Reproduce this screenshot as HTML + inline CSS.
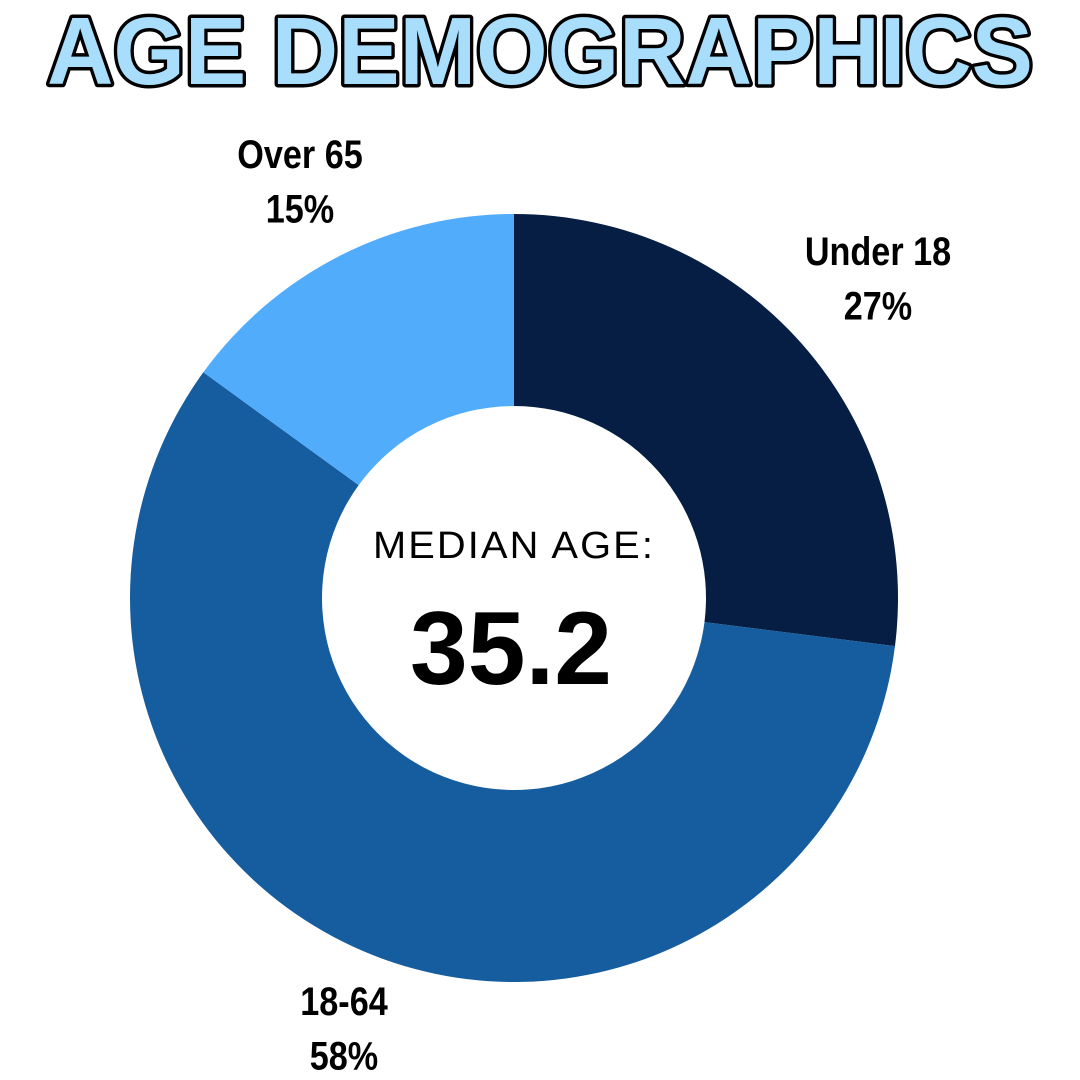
<!DOCTYPE html>
<html><head><meta charset="utf-8">
<style>
html,body{margin:0;padding:0;background:#fff;}
svg{display:block;}
.lbl{font-family:"Liberation Sans Narrow","Liberation Sans",sans-serif;font-weight:bold;font-size:38px;fill:#000;text-anchor:middle;}
</style></head>
<body>
<svg id="chart" width="1080" height="1080" viewBox="0 0 1080 1080">
  <text x="540" y="84" textLength="986" lengthAdjust="spacingAndGlyphs" text-anchor="middle"
    style="font-family:'Liberation Sans',sans-serif;font-weight:bold;font-size:96px;fill:#a8defc;stroke:#000;stroke-width:7px;paint-order:stroke;stroke-linejoin:round;"
   >AGE DEMOGRAPHICS</text>
  <g id="slices"></g>
  <g id="labels"></g>
  <text x="514" y="558" text-anchor="middle" textLength="282" lengthAdjust="spacingAndGlyphs" style="font-family:'Liberation Sans',sans-serif;font-size:38px;fill:#000;letter-spacing:2px;">MEDIAN AGE:</text>
  <text x="511" y="684" text-anchor="middle" textLength="202" lengthAdjust="spacingAndGlyphs" style="font-family:'Liberation Sans',sans-serif;font-weight:bold;font-size:104px;fill:#000;">35.2</text>
</svg>
<script>
const categories = ["Under 18", "18-64", "Over 65"];
const values = [27, 58, 15];
const colors = ["#061e44", "#155d9f", "#52acfc"];
const labelPos = [[878, 265], [344, 1015], [300, 168]];
const cx = 514, cy = 598, R = 384, r = 192;
const ns = "http://www.w3.org/2000/svg";
const total = values.reduce((a, b) => a + b, 0);
function pt(a, rad) { return [cx + rad * Math.sin(a), cy - rad * Math.cos(a)]; }
let ang = 0;
const sg = document.getElementById("slices"), lg = document.getElementById("labels");
values.forEach((v, i) => {
  const a0 = ang, a1 = ang + v / total * 2 * Math.PI; ang = a1;
  const large = (a1 - a0) > Math.PI ? 1 : 0;
  const p0 = pt(a0, R), p1 = pt(a1, R), q1 = pt(a1, r), q0 = pt(a0, r);
  const p = document.createElementNS(ns, "path");
  p.setAttribute("d", `M${p0[0]},${p0[1]} A${R},${R} 0 ${large} 1 ${p1[0]},${p1[1]} L${q1[0]},${q1[1]} A${r},${r} 0 ${large} 0 ${q0[0]},${q0[1]} Z`);
  p.setAttribute("fill", colors[i]);
  
  
  sg.appendChild(p);
  const t = document.createElementNS(ns, "text");
  t.setAttribute("class", "lbl");
  t.setAttribute("transform", `translate(${labelPos[i][0]},${labelPos[i][1]}) scale(0.9,1.05)`);
  const s1 = document.createElementNS(ns, "tspan"); s1.setAttribute("x", 0); s1.setAttribute("y", 0); s1.textContent = categories[i];
  const s2 = document.createElementNS(ns, "tspan"); s2.setAttribute("x", 0); s2.setAttribute("y", 52); s2.textContent = v + "%";
  t.appendChild(s1); t.appendChild(s2);
  
  
  lg.appendChild(t);
});
</script>
</body></html>
